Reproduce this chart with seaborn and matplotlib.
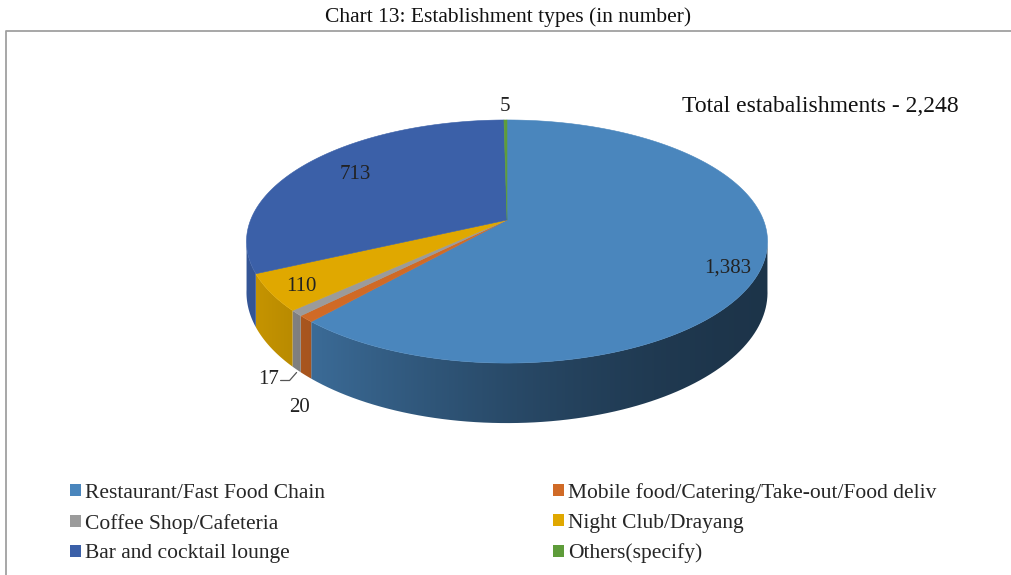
import numpy as np
import matplotlib
matplotlib.use("Agg")
import matplotlib.pyplot as plt
import seaborn as sns
from matplotlib.patches import Patch, Polygon
from matplotlib.colors import to_rgb

# data
categories = ["Restaurant/Fast Food Chain", "Mobile food/Catering/Take-out/Food deliv",
              "Coffee Shop/Cafeteria", "Night Club/Drayang",
              "Bar and cocktail lounge", "Others(specify)"]
counts = [1383, 20, 17, 110, 713, 5]
labels = ["1,383", "20", "17", "110", "713", "5"]
colors = ["#4a86bd", "#d06a26", "#9b9b9b", "#e0a800", "#3b60a8", "#5e9c3a"]
total = sum(counts)

sns.set_theme(style="white")
plt.rcParams['font.family'] = ['Liberation Serif', 'DejaVu Serif']

# perspective ellipse (pixel space)
CX, W = 507.0, 256.4
A, B, C = -78.8, 220.0, 0.177
D = 49.4


def proj(phi_deg, r=1.0, down=0.0):
    phi = np.radians(phi_deg)
    u = r * np.cos(phi)
    v = r * np.sin(phi)
    den = 1 + C * v
    return CX + W * u / den, (A * v + B + down) / den


def shade(x):
    t = np.clip((765 - x) / 455.0, 0, 1.25)
    return np.minimum(0.39 + 0.41 * t ** 1.6, 0.93)


fig = plt.figure(figsize=(10.12, 5.75), dpi=100)
ax = fig.add_axes([0, 0, 1, 1])
ax.set_xlim(0, 1012)
ax.set_ylim(575, 0)
ax.axis("off")

# slice angles, clockwise from 12 o'clock
bounds = 90 - 360 * np.concatenate([[0], np.cumsum(counts)]) / total

# side walls (visible front part), shaded left to right
gx_grid = np.linspace(230, 790, 400)
for i, c in enumerate(colors):
    a0, a1 = bounds[i], bounds[i + 1]
    for off in (0, -360):
        lo = max(a1 + off, -171)
        hi = min(a0 + off, -9)
        if hi <= lo:
            continue
        arc = np.linspace(hi, lo, 80)
        tx, ty = proj(arc)
        bx, by = proj(arc[::-1], down=D)
        poly = Polygon(np.c_[np.r_[tx, bx], np.r_[ty, by]], closed=True,
                       fc="none", ec="none")
        ax.add_patch(poly)
        grad = np.array(to_rgb(c))[None, None, :] * shade(gx_grid)[None, :, None]
        im = ax.imshow(grad, extent=(230, 790, 440, 190), aspect="auto",
                       interpolation="bilinear", zorder=1)
        im.set_clip_path(poly)

# top faces
cx0, cy0 = proj(0, r=0)
for i, c in enumerate(colors):
    arc = np.linspace(bounds[i], bounds[i + 1], max(int(abs(bounds[i] - bounds[i + 1])), 2) + 1)
    xs, ys = proj(arc)
    ax.fill(np.r_[cx0, xs], np.r_[cy0, ys], color=c, lw=0.4, ec=c, zorder=2)

# data labels
mids = (bounds[:-1] + bounds[1:]) / 2
label_pos = {0: (0.87, 10), 3: (0.88, 3), 4: (0.75, -2), 5: (1.17, 1)}
for i, (rr, dy) in label_pos.items():
    lx, ly = proj(mids[i], r=rr)
    ax.text(lx, ly + dy, labels[i], ha="center", va="center", fontsize=15,
            color="#222222", zorder=3)

# small slices: labels under the side wall
bx, by = proj(mids[1], down=D)
ax.text(bx - 6, by + 32, labels[1], ha="center", va="center", fontsize=15,
        color="#222222", zorder=3)
gx, gy = proj(mids[2], down=D)
ax.plot([gx - 16, gx - 7, gx], [gy + 11, gy + 11, gy + 3], color="#555555", lw=0.9, zorder=3)
ax.text(gx - 18, gy + 10, labels[2], ha="right", va="center", fontsize=15,
        color="#222222", zorder=3)

ax.text(820, 107, "Total estabalishments - " + f"{total:,}", ha="center", va="center",
        fontsize=17, color="#111111", zorder=3)

# frame
ax.plot([6, 6, 1012], [575, 30.5, 30.5], color="#a0a0a0", lw=1.3)
fig.text(508 / 1012, 1 - 17 / 575, "Chart 13: Establishment types (in number)",
         ha="center", va="center", fontsize=15.5, color="#111111")

# legend, row-wise order
order = [0, 2, 4, 1, 3, 5]
handles = [Patch(facecolor=colors[k], edgecolor="none", label=categories[k]) for k in order]
ax.legend(handles=handles, ncol=2, loc="upper left", bbox_to_anchor=(70, 483),
          bbox_transform=ax.transData, frameon=False, fontsize=15.5,
          handlelength=0.5, handleheight=0.5, handletextpad=0.2,
          columnspacing=10.6, labelspacing=0.5, borderpad=0, borderaxespad=0)

fig.savefig("out.png", dpi=100)
